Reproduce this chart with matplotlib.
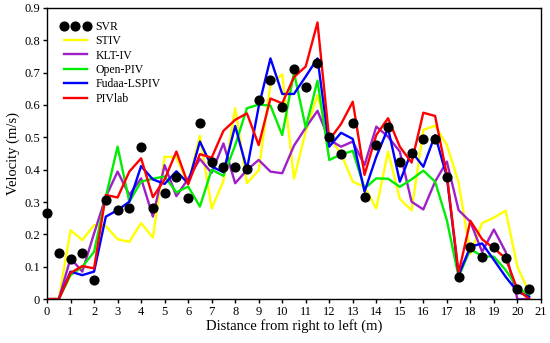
import numpy as np
import matplotlib.pyplot as plt
from matplotlib.ticker import FuncFormatter

plt.rcParams['font.family'] = ['Liberation Serif', 'DejaVu Serif']

# distance from right bank, every 0.5 m
dist = [i * 0.5 for i in range(42)]

svr = [0.267, 0.144, 0.124, 0.144, 0.059, 0.306, 0.275, 0.282, 0.471, 0.282,
       0.329, 0.378, 0.313, 0.543, 0.423, 0.409, 0.407, 0.401, 0.616, 0.676,
       0.593, 0.711, 0.655, 0.731, 0.500, 0.449, 0.545, 0.317, 0.476, 0.533,
       0.425, 0.453, 0.494, 0.494, 0.376, 0.067, 0.162, 0.131, 0.162, 0.128,
       0.030, 0.030]

stiv = [0, 0, 0.213, 0.182, 0.229, 0.226, 0.185, 0.177, 0.235, 0.190,
        0.440, 0.438, 0.355, 0.505, 0.280, 0.365, 0.590, 0.358, 0.398, 0.665,
        0.695, 0.372, 0.518, 0.630, 0.500, 0.450, 0.363, 0.347, 0.280, 0.456,
        0.310, 0.274, 0.523, 0.536, 0.476, 0.360, 0.140, 0.235, 0.252, 0.273,
        0.100, 0.020]

klt = [0, 0, 0.126, 0.085, 0.203, 0.316, 0.394, 0.322, 0.373, 0.255,
       0.414, 0.318, 0.372, 0.433, 0.390, 0.481, 0.358, 0.399, 0.430, 0.394,
       0.389, 0.474, 0.530, 0.582, 0.492, 0.471, 0.487, 0.414, 0.533, 0.502,
       0.456, 0.301, 0.277, 0.363, 0.425, 0.275, 0.239, 0.146, 0.215, 0.146,
       0, 0]

openpiv = [0, 0, 0.074, 0.100, 0.146, 0.316, 0.471, 0.301, 0.363, 0.372,
           0.379, 0.330, 0.348, 0.286, 0.400, 0.381, 0.475, 0.590, 0.601, 0.598,
           0.507, 0.700, 0.530, 0.675, 0.430, 0.447, 0.458, 0.342, 0.373, 0.372,
           0.347, 0.370, 0.397, 0.363, 0.244, 0.069, 0.154, 0.133, 0.131, 0.090,
           0.036, 0.012]

fudaa = [0, 0, 0.085, 0.074, 0.085, 0.255, 0.275, 0.301, 0.411, 0.370,
         0.356, 0.395, 0.358, 0.487, 0.410, 0.392, 0.535, 0.401, 0.595, 0.744,
         0.634, 0.634, 0.688, 0.744, 0.471, 0.514, 0.495, 0.332, 0.440, 0.528,
         0.363, 0.456, 0.409, 0.507, 0.378, 0.074, 0.162, 0.172, 0.121, 0.069,
         0.023, 0.007]

pivlab = [0, 0, 0.081, 0.102, 0.095, 0.322, 0.314, 0.394, 0.435, 0.315,
          0.370, 0.456, 0.355, 0.448, 0.437, 0.520, 0.554, 0.574, 0.476, 0.620,
          0.605, 0.686, 0.719, 0.855, 0.492, 0.541, 0.610, 0.384, 0.507, 0.559,
          0.471, 0.422, 0.576, 0.566, 0.384, 0.081, 0.242, 0.185, 0.157, 0.126,
          0.030, 0]

fig = plt.figure(figsize=(5.5, 3.43), dpi=100)
ax = fig.add_axes([0.0855, 0.128, 0.898, 0.849])

lw = 1.7
ax.plot(dist, svr, 'o', color='black', ms=6.3, label='SVR', zorder=5, clip_on=False)
ax.plot(dist, stiv, color='#ffff00', lw=lw, label='STIV')
ax.plot(dist, klt, color='#a020c8', lw=lw, label='KLT-IV')
ax.plot(dist, openpiv, color='#00ee00', lw=lw, label='Open-PIV')
ax.plot(dist, fudaa, color='#0000ff', lw=lw, label='Fudaa-LSPIV')
ax.plot(dist, pivlab, color='#ff0000', lw=lw, label='PIVlab')

ax.set_xlim(0, 21)
ax.set_ylim(0, 0.9)
ax.set_xticks(range(0, 22))
ax.set_yticks(np.arange(0, 0.91, 0.1))
ax.yaxis.set_major_formatter(FuncFormatter(lambda v, p: '0' if abs(v) < 1e-9 else f'{v:.1f}'))
ax.tick_params(direction='out', length=3, width=1, labelsize=9, pad=2)
for s in ax.spines.values():
    s.set_linewidth(1)

ax.set_xlabel('Distance from right to left (m)', fontsize=10.5, labelpad=1)
ax.set_ylabel('Velocity (m/s)', fontsize=10.5, labelpad=3)

ax.legend(loc='upper left', frameon=False, numpoints=3, fontsize=8.5,
          handlelength=2.6, handletextpad=0.4, labelspacing=0.2,
          borderaxespad=0.7)

fig.savefig('out.png', dpi=100)
